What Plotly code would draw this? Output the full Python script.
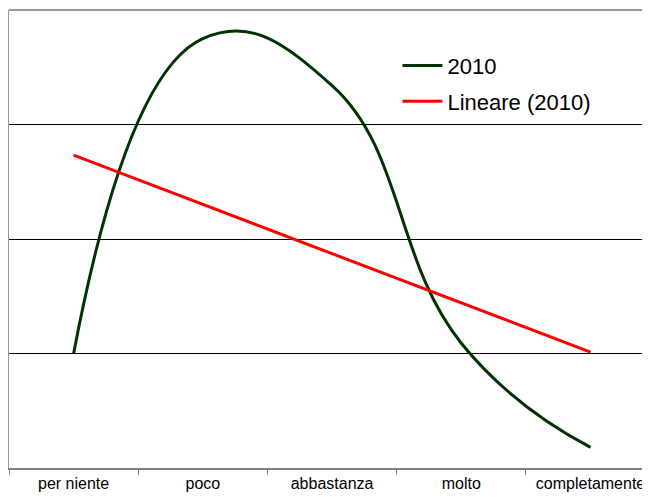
import numpy as np
import plotly.graph_objects as go

categories = ["per niente", "poco", "abbastanza", "molto", "completamente"]
values_2010 = [10.0, 37.5, 33.4, 10.9, 1.8]

# linear trend (Excel "Lineare")
xs = np.arange(len(values_2010))
slope, intercept = np.polyfit(xs, values_2010, 1)
trend = list(intercept + slope * xs)

fig = go.Figure()
fig.add_trace(go.Scatter(
    x=categories, y=values_2010, mode="lines", name="2010",
    line=dict(color="#003300", width=3, shape="spline", smoothing=1.3),
    legendgroup="a",
))
fig.add_trace(go.Scatter(
    x=categories, y=trend, mode="lines", name="Lineare (2010)",
    line=dict(color="#FF0000", width=3),
    legendgroup="b",
))

fig.update_layout(
    width=642, height=489,
    margin=dict(l=1, r=0, t=2, b=29),
    paper_bgcolor="white", plot_bgcolor="white",
    font=dict(family="Liberation Sans, Arial, sans-serif", color="black"),
    showlegend=True,
    legend=dict(x=0.606, y=0.924, xanchor="left", yanchor="top",
                font=dict(size=22), bgcolor="rgba(0,0,0,0)",
                tracegroupgap=4, itemwidth=40),
    xaxis=dict(type="category", range=[-0.5, 4.46], tickson="boundaries",
               ticks="outside", ticklen=5, tickcolor="#808080",
               showline=True, linecolor="#808080", linewidth=2,
               mirror=False, showgrid=False, tickfont=dict(size=16),
               fixedrange=True),
    yaxis=dict(range=[0, 40], tickvals=[10, 20, 30], showticklabels=False,
               showgrid=True, gridcolor="black", gridwidth=1,
               showline=True, linecolor="#999999", linewidth=2,
               zeroline=False, ticks=""),
)
fig.add_shape(type="line", xref="paper", yref="paper", x0=0, x1=1, y0=1, y1=1,
              line=dict(color="#999999", width=2))

fig.write_html("out.html")
